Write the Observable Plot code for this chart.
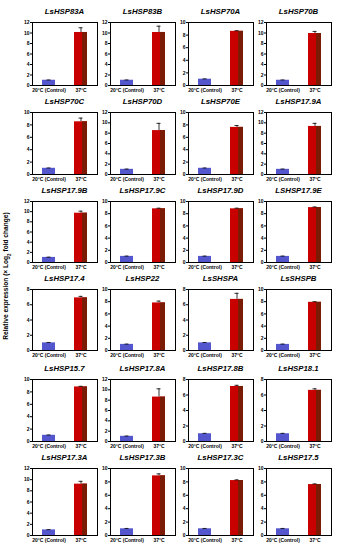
<!DOCTYPE html>
<html><head><meta charset="utf-8">
<script src="https://cdn.jsdelivr.net/npm/d3@7"></script>
<script src="https://cdn.jsdelivr.net/npm/@observablehq/plot@0.6"></script>
<style>
body{margin:0;background:#fff;width:341px;height:550px;overflow:hidden;font-family:"Liberation Sans",Arial,sans-serif;}
#wrap{position:relative;width:341px;height:550px;}
.title{position:absolute;font-weight:bold;font-style:italic;font-size:7.8px;text-align:center;white-space:nowrap;width:80px;line-height:1;}
.panel{position:absolute;}
#ylab{position:absolute;left:7px;top:276px;transform:translate(-50%,-50%) rotate(-90deg);font-weight:bold;font-size:6.6px;white-space:nowrap;}
</style></head><body><div id="wrap"><div id="ylab">Relative expression (× Log<sub style="font-size:4.5px">2</sub> fold change)</div></div>
<script>
const genes = ["LsHSP83A","LsHSP83B","LsHSP70A","LsHSP70B",
  "LsHSP70C","LsHSP70D","LsHSP70E","LsHSP17.9A",
  "LsHSP17.9B","LsHSP17.9C","LsHSP17.9D","LSHSP17.9E",
  "LsHSP17.4","LsHSP22","LsSHSPA","LsSHSPB",
  "LsHSP15.7","LsHSP17.8A","LsHSP17.8B","LsHSP18.1",
  "LsHSP17.3A","LsHSP17.3B","LsHSP17.3C","LsHSP17.5"];
const conditions = ["20°C (Control)", "37°C"];
const controlValues = [1,1,1,1, 1,1,1,1, 1,1,1,1, 1,1,1,1, 1,1,1,1, 1,1,1,1];
const controlErrors = [0.05,0.05,0.05,0.05, 0.05,0.05,0.05,0.05, 0.05,0.05,0.05,0.05, 0.05,0.05,0.05,0.05, 0.05,0.05,0.05,0.05, 0.05,0.05,0.05,0.05];
const heatValues = [10.1,10.1,8.6,9.9, 8.5,8.5,7.6,9.3, 9.7,8.8,8.8,9.0, 6.9,7.8,6.7,7.9, 8.8,8.6,7.1,6.6, 9.2,8.9,8.2,7.6];
const heatErrors = [0.9,1.2,0.1,0.4, 0.6,1.4,0.3,0.6, 0.4,0.1,0.1,0.1, 0.2,0.3,0.8,0.1, 0.1,1.6,0.15,0.2, 0.5,0.3,0.1,0.1];
const yMax = [12,12,10,12, 10,12,10,12, 12,10,10,10, 8,10,8,10, 10,12,8,8, 12,10,10,10];

const blue = "#5356cc", red = "#c80000", dark = "#7a1c05";
const wrap = document.getElementById("wrap");
const frameTops = [22,112,201,289,379,468];
const frameHs = [63,62,61,61,62,67];
genes.forEach((g, i) => {
  const r = Math.floor(i / 4), c = i % 4;
  const x0 = 18 + 78 * c;
  const data = [
    {cond: conditions[0], v: controlValues[i], e: controlErrors[i], col: blue},
    {cond: conditions[1], v: heatValues[i], e: heatErrors[i], col: red}
  ];
  const fh = frameHs[r];
  const mt = 3;
  const chart = Plot.plot({
    width: 80, height: mt + fh + 12,
    marginTop: mt, marginLeft: 14, marginRight: 1, marginBottom: 12,
    style: {fontFamily: '"Liberation Sans",Arial,sans-serif', fontSize: "5px", fontWeight: "bold", background: "transparent", overflow: "visible"},
    x: {domain: conditions, paddingInner: 0.6, paddingOuter: 0.3, label: null, tickSize: 0, tickPadding: 3},
    y: {domain: [0, yMax[i]], ticks: d3.range(0, yMax[i] + 1, 2), label: null, tickSize: 2, tickPadding: 1},
    color: {type: "identity"},
    marks: [
      Plot.barY(data, {x: "cond", y: "v", fill: "col"}),
      Plot.barY(data.slice(1), {x: "cond", y: "v", fill: dark, insetLeft: 8}),
      Plot.ruleX(data, {x: "cond", y1: "v", y2: d => d.v + d.e, stroke: "black", strokeWidth: 0.8}),
      Plot.tickY(data, {x: "cond", y: d => d.v + d.e, insetLeft: 4.5, insetRight: 4.5, stroke: "black", strokeWidth: 0.8}),
      Plot.frame({stroke: "black"})
    ]
  });
  chart.classList.add("panel");
  chart.style.left = x0 + "px";
  chart.style.top = (frameTops[r] - mt) + "px";
  wrap.appendChild(chart);
  const t = document.createElement("div");
  t.className = "title";
  t.textContent = g;
  t.style.left = (x0 + 14 + 32.5 - 40) + "px";
  t.style.top = (frameTops[r] - 14) + "px";
  wrap.appendChild(t);
});
</script>
</body></html>
